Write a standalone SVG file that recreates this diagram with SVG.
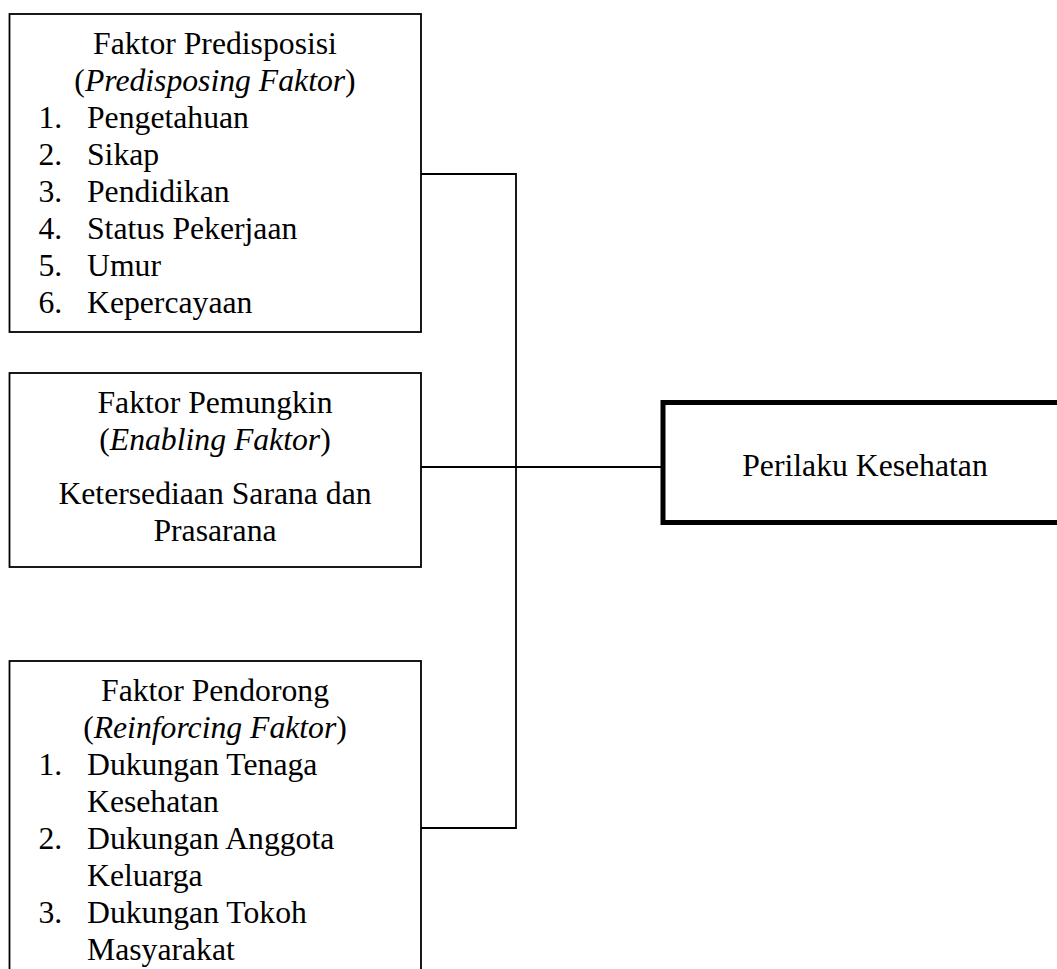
<svg xmlns="http://www.w3.org/2000/svg" width="1057" height="969" viewBox="0 0 1057 969">
<style>
.box{fill:#fff;stroke:#000;stroke-width:1.8}
.bold{fill:#fff;stroke:#000;stroke-width:5}
.t{font-family:"Liberation Serif","Times New Roman",serif;font-size:31.7px;fill:#000}
.c{text-anchor:middle}
.ln{fill:none;stroke:#000;stroke-width:1.8}
</style>
<rect width="1057" height="969" fill="#fff"/>
<g id="connectors">
<polyline class="ln" points="421,174 516,174 516,828 421,828"/>
<line class="ln" x1="421" y1="467" x2="663" y2="467"/>
</g>
<g id="predisposing">
<rect class="box" x="9.5" y="14" width="411.5" height="318"/>
<text class="t c" x="215" y="54">Faktor Predisposisi</text>
<text class="t c" x="215" y="91">(<tspan font-style="italic">Predisposing Faktor</tspan>)</text>
<text class="t" x="38.5" y="128">1.</text><text class="t" x="87" y="128">Pengetahuan</text>
<text class="t" x="38.5" y="165">2.</text><text class="t" x="87" y="165">Sikap</text>
<text class="t" x="38.5" y="202">3.</text><text class="t" x="87" y="202">Pendidikan</text>
<text class="t" x="38.5" y="239">4.</text><text class="t" x="87" y="239">Status Pekerjaan</text>
<text class="t" x="38.5" y="276">5.</text><text class="t" x="87" y="276">Umur</text>
<text class="t" x="38.5" y="313">6.</text><text class="t" x="87" y="313">Kepercayaan</text>
</g>
<g id="enabling">
<rect class="box" x="9.5" y="373" width="411.5" height="194"/>
<text class="t c" x="215" y="413">Faktor Pemungkin</text>
<text class="t c" x="215" y="450">(<tspan font-style="italic">Enabling Faktor</tspan>)</text>
<text class="t c" x="215" y="504">Ketersediaan Sarana dan</text>
<text class="t c" x="215" y="541">Prasarana</text>
</g>
<g id="reinforcing">
<rect class="box" x="9.5" y="661" width="411.5" height="330"/>
<text class="t c" x="215" y="701">Faktor Pendorong</text>
<text class="t c" x="215" y="738">(<tspan font-style="italic">Reinforcing Faktor</tspan>)</text>
<text class="t" x="38.5" y="775">1.</text><text class="t" x="87" y="775">Dukungan Tenaga</text>
<text class="t" x="87" y="812">Kesehatan</text>
<text class="t" x="38.5" y="849">2.</text><text class="t" x="87" y="849">Dukungan Anggota</text>
<text class="t" x="87" y="886">Keluarga</text>
<text class="t" x="38.5" y="923">3.</text><text class="t" x="87" y="923">Dukungan Tokoh</text>
<text class="t" x="87" y="960">Masyarakat</text>
</g>
<g id="perilaku">
<rect class="bold" x="663" y="402.5" width="410" height="120"/>
<text class="t c" x="865" y="476">Perilaku Kesehatan</text>
</g>
</svg>
